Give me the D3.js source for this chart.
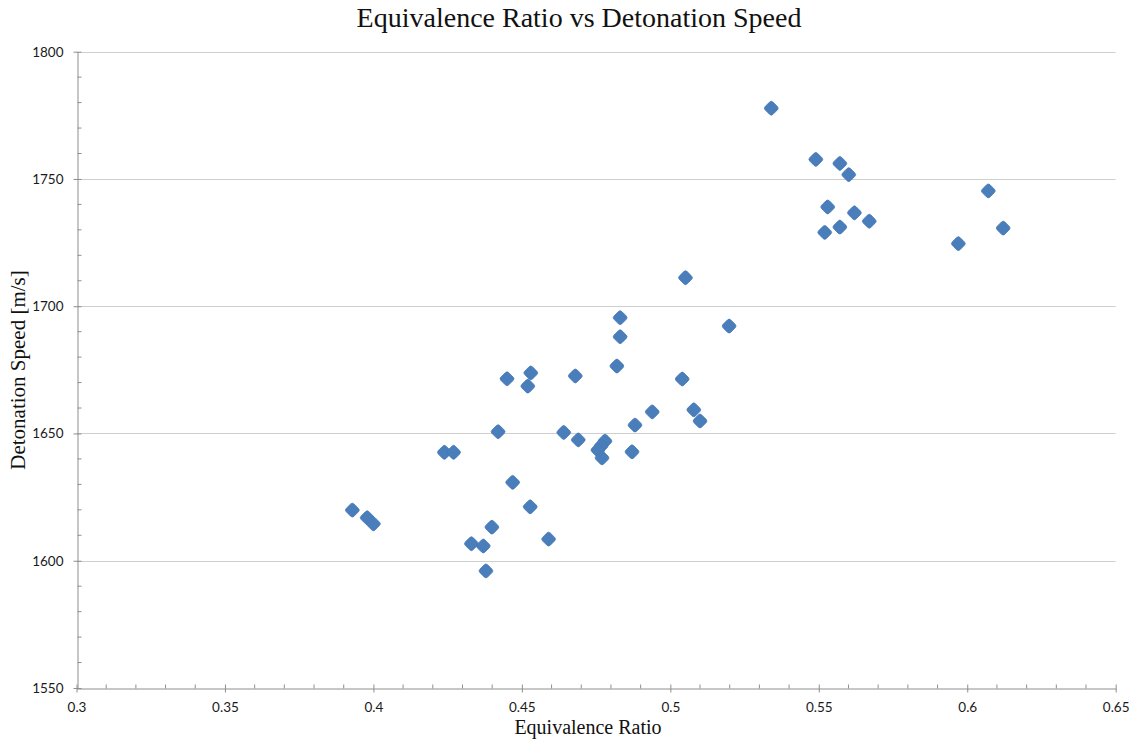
<!DOCTYPE html>
<html>
<head>
<meta charset="utf-8">
<script src="https://cdn.jsdelivr.net/npm/d3@7"></script>
<style>
  html, body { margin: 0; padding: 0; background: #fff; }
  svg { display: block; }
</style>
</head>
<body>
<svg id="chart" width="1133" height="740"></svg>
<script>
// Measured equivalence ratio and detonation speed (m/s) per shot
const equivalenceRatio = [
  0.5340, 0.5490, 0.5571, 0.5601, 0.5530, 0.5620, 0.5670, 0.5571, 0.5520,
  0.6071, 0.6121, 0.5970, 0.5051, 0.5198, 0.4831, 0.4831, 0.4820, 0.4680,
  0.4530, 0.4450, 0.4520, 0.5040, 0.5079, 0.5100, 0.4939, 0.4881, 0.4420,
  0.4641, 0.4690, 0.4780, 0.4767, 0.4756, 0.4770, 0.4871, 0.4239, 0.4270,
  0.4469, 0.3929, 0.3979, 0.4000, 0.4528, 0.4399, 0.4330, 0.4370, 0.4590,
  0.4379
];
const detonationSpeed = [
  1777.8, 1757.7, 1756.1, 1751.7, 1739.0, 1736.7, 1733.4, 1731.1, 1729.0,
  1745.3, 1730.7, 1724.6, 1711.2, 1692.2, 1695.5, 1688.0, 1676.5, 1672.6,
  1673.8, 1671.5, 1668.6, 1671.4, 1659.3, 1654.9, 1658.5, 1653.3, 1650.7,
  1650.4, 1647.5, 1647.0, 1645.1, 1643.5, 1640.4, 1642.8, 1642.6, 1642.6,
  1630.8, 1619.9, 1616.9, 1614.5, 1621.2, 1613.2, 1606.7, 1605.8, 1608.5,
  1596.0
];
const xTicks = [0.3, 0.35, 0.4, 0.45, 0.5, 0.55, 0.6, 0.65];
const yTicks = [1550, 1600, 1650, 1700, 1750, 1800];

const points = equivalenceRatio.map((x, i) => ({ x, y: detonationSpeed[i] }));

const svg = d3.select("#chart");
const plot = { left: 76.5, right: 1115.7, top: 51.7, bottom: 688 };

const x = d3.scaleLinear().domain([0.3, 0.65]).range([plot.left, plot.right]);
const y = d3.scaleLinear().domain([1550, 1800]).range([plot.bottom, plot.top]);

const axisColor = "#8e8e8e";
const gridColor = "#cfcfcf";
const tickFont = "Lato, 'Open Sans', sans-serif";
const serif = "'Liberation Serif', 'DejaVu Serif', serif";

// horizontal gridlines
svg.append("g")
  .selectAll("line")
  .data(yTicks.filter(t => t > 1550))
  .join("line")
  .attr("x1", plot.left).attr("x2", plot.right)
  .attr("y1", d => Math.round(y(d)) + 0.5).attr("y2", d => Math.round(y(d)) + 0.5)
  .attr("stroke", gridColor).attr("stroke-width", 1);

// minor ticks (every 0.01 and every 10 m/s), drawn inward
const xMinor = d3.range(0.3, 0.6501, 0.01).filter(v => !xTicks.some(t => Math.abs(t - v) < 1e-6));
const yMinor = d3.range(1550, 1800.1, 10).filter(v => !yTicks.some(t => Math.abs(t - v) < 1e-6));

const xAxis = svg.append("g")
  .attr("transform", `translate(0,${Math.round(plot.bottom) + 0.5})`)
  .call(d3.axisBottom(x).tickValues(xTicks).tickFormat(d3.format("~g")).tickSizeInner(4).tickSizeOuter(0).tickPadding(10));
xAxis.select(".domain").attr("stroke", axisColor);
xAxis.selectAll(".tick line").attr("stroke", axisColor).attr("y1", -4).attr("y2", 4);
xAxis.selectAll(".tick text").attr("font-family", tickFont).attr("font-size", 13.5).attr("fill", "#1a1a1a");
xAxis.append("g").selectAll("line").data(xMinor).join("line")
  .attr("x1", d => x(d)).attr("x2", d => x(d)).attr("y1", 0).attr("y2", -4)
  .attr("stroke", axisColor);

const yAxis = svg.append("g")
  .attr("transform", `translate(${Math.round(plot.left) + 0.5},0)`)
  .call(d3.axisLeft(y).tickValues(yTicks).tickFormat(d3.format("d")).tickSizeInner(4).tickSizeOuter(0).tickPadding(10));
yAxis.select(".domain").attr("stroke", axisColor);
yAxis.selectAll(".tick line").attr("stroke", axisColor).attr("x1", -4).attr("x2", 4);
yAxis.selectAll(".tick text").attr("font-family", tickFont).attr("font-size", 13.5).attr("fill", "#1a1a1a");
yAxis.append("g").selectAll("line").data(yMinor).join("line")
  .attr("y1", d => y(d)).attr("y2", d => y(d)).attr("x1", 0).attr("x2", 4)
  .attr("stroke", axisColor);

// diamond markers with softened corners
const half = 7.8;
const c = 1.7;
const diamond = `M${-c},${-half + c} Q0,${-half} ${c},${-half + c} L${half - c},${-c} Q${half},0 ${half - c},${c} L${c},${half - c} Q0,${half} ${-c},${half - c} L${-half + c},${c} Q${-half},0 ${-half + c},${-c} Z`;
svg.append("g")
  .selectAll("path")
  .data(points)
  .join("path")
  .attr("transform", d => `translate(${x(d.x)},${y(d.y)})`)
  .attr("d", diamond)
  .attr("fill", "#4a7ebb")
  .attr("stroke", "#4577b8")
  .attr("stroke-width", 0.8);

// titles
svg.append("text")
  .attr("x", 579).attr("y", 27)
  .attr("text-anchor", "middle")
  .attr("font-family", serif).attr("font-size", 28).attr("fill", "#111")
  .text("Equivalence Ratio vs Detonation Speed");

svg.append("text")
  .attr("x", 588).attr("y", 734)
  .attr("text-anchor", "middle")
  .attr("font-family", serif).attr("font-size", 20).attr("fill", "#111")
  .text("Equivalence Ratio");

svg.append("text")
  .attr("transform", "translate(25,370) rotate(-90)")
  .attr("text-anchor", "middle")
  .attr("font-family", serif).attr("font-size", 21).attr("fill", "#111")
  .text("Detonation Speed [m/s]");
</script>
</body>
</html>
